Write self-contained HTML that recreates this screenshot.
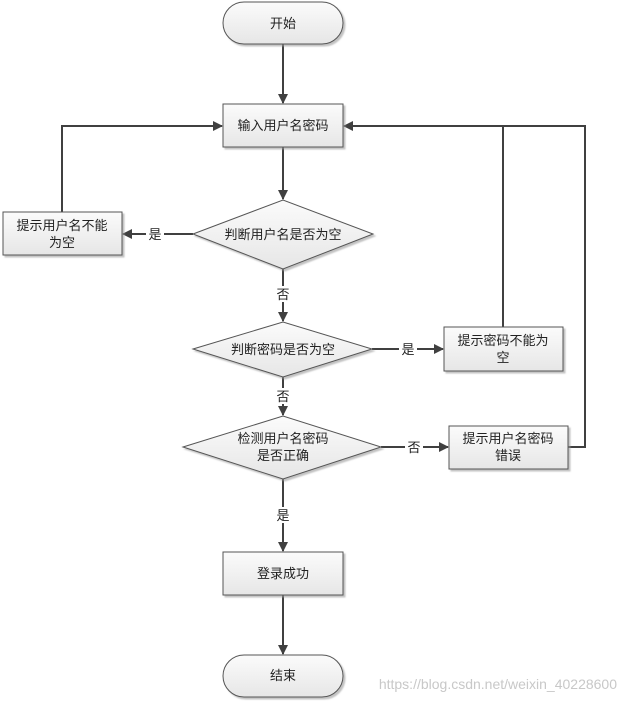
<!DOCTYPE html>
<html><head><meta charset="utf-8"><style>
body{margin:0;background:#fff}
svg text{font-family:"Liberation Sans","Noto Sans CJK SC",sans-serif;font-size:13px;fill:#222}
</style></head><body>
<svg width="627" height="702" viewBox="0 0 627 702" xmlns="http://www.w3.org/2000/svg">
<defs>
<linearGradient id="g" x1="0" y1="0" x2="0" y2="1"><stop offset="0" stop-color="#fbfbfb"/><stop offset="1" stop-color="#e6e6e6"/></linearGradient>
<marker id="a" markerWidth="10" markerHeight="10" refX="9" refY="5" orient="auto" markerUnits="userSpaceOnUse"><path d="M0,0 L10,5 L0,10 Z" fill="#404040"/></marker>
<filter id="s"><feDropShadow dx="2" dy="2" stdDeviation="0.8" flood-color="#999" flood-opacity="0.6"/></filter>
</defs>
<g stroke="#404040" stroke-width="2" fill="none">
<line x1="283" y1="44" x2="283" y2="103" marker-end="url(#a)"/>
<line x1="283" y1="147" x2="283" y2="199" marker-end="url(#a)"/>
<polyline points="62,212 62,126 222,126" marker-end="url(#a)"/>
<line x1="193" y1="234" x2="123" y2="234" marker-end="url(#a)"/>
<line x1="283" y1="269" x2="283" y2="321" marker-end="url(#a)"/>
<line x1="372" y1="349" x2="443" y2="349" marker-end="url(#a)"/>
<polyline points="503,327 503,126 344,126" marker-end="url(#a)"/>
<line x1="283" y1="377" x2="283" y2="415" marker-end="url(#a)"/>
<line x1="381" y1="447" x2="448" y2="447" marker-end="url(#a)"/>
<polyline points="568,447 585,447 585,126 503,126"/>
<line x1="283" y1="479" x2="283" y2="551" marker-end="url(#a)"/>
<line x1="283" y1="595" x2="283" y2="654" marker-end="url(#a)"/>
</g>
<g fill="url(#g)" stroke="#555" stroke-width="1" filter="url(#s)">
<rect x="223" y="2" width="120" height="42" rx="21"/>
<rect x="223" y="104" width="120" height="43"/>
<polygon points="193,234 283,200 373,234 283,269"/>
<rect x="3" y="212" width="119" height="43"/>
<polygon points="193,349 283,322 372,349 283,377"/>
<rect x="444" y="327" width="119" height="44"/>
<polygon points="183,447 283,416 381,447 283,479"/>
<rect x="449" y="426" width="119" height="43"/>
<rect x="223" y="552" width="120" height="43"/>
<rect x="223" y="655" width="120" height="42" rx="21"/>
</g>
<g text-anchor="middle">
<rect x="146" y="226" width="18" height="16" fill="#fff"/><text x="155" y="239">是</text>
<rect x="274" y="286" width="18" height="16" fill="#fff"/><text x="283" y="299">否</text>
<rect x="399" y="341" width="18" height="16" fill="#fff"/><text x="408" y="354">是</text>
<rect x="274" y="388" width="18" height="16" fill="#fff"/><text x="283" y="401">否</text>
<rect x="405" y="439" width="18" height="16" fill="#fff"/><text x="414" y="452">否</text>
<rect x="274" y="507" width="18" height="16" fill="#fff"/><text x="283" y="520">是</text>
<text x="283" y="28">开始</text>
<text x="283" y="130">输入用户名密码</text>
<text x="283" y="239">判断用户名是否为空</text>
<text x="62" y="230">提示用户名不能</text>
<text x="62" y="247">为空</text>
<text x="283" y="354">判断密码是否为空</text>
<text x="503" y="345">提示密码不能为</text>
<text x="503" y="362">空</text>
<text x="283" y="443">检测用户名密码</text>
<text x="283" y="460">是否正确</text>
<text x="508" y="443">提示用户名密码</text>
<text x="508" y="460">错误</text>
<text x="283" y="578">登录成功</text>
<text x="283" y="680">结束</text>
</g>
<text x="617" y="689" text-anchor="end" style="fill:#c8c8c8;font-size:14px">https://blog.csdn.net/weixin_40228600</text>
</svg>
</body></html>
